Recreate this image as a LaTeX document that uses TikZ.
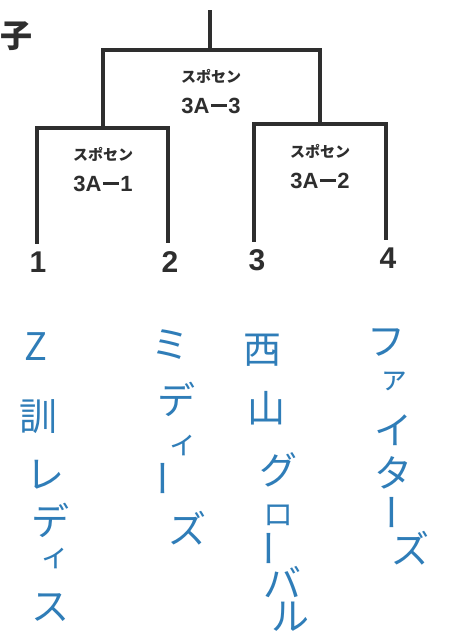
\documentclass[tikz,border=0pt]{standalone}
\usepackage{fontspec}
\setmainfont{Liberation Sans}
\newfontfamily\cjk{Noto Sans CJK JP}
\definecolor{ink}{HTML}{2E2E2E}
\definecolor{pen}{HTML}{2F7DB8}
\newcommand{\longdash}{\hspace{1.5pt}\rule[6.5pt]{16pt}{2.6pt}\hspace{1.5pt}}
\tikzset{
  bracket/.style={draw=ink, line width=3.6pt, line cap=rect, line join=miter},
  kana/.style={text=ink, font=\cjk\fontsize{15}{15}\selectfont\bfseries, inner sep=0pt},
  code/.style={text=ink, font=\fontsize{22}{22}\selectfont\bfseries, inner sep=0pt},
  num/.style={text=ink, font=\fontsize{30}{30}\selectfont\bfseries, inner sep=0pt},
  hand/.style={text=pen, font=\cjk\fontsize{38}{38}\selectfont, inner sep=0pt},
  handsm/.style={text=pen, font=\cjk\fontsize{30}{30}\selectfont, inner sep=0pt}
}
\begin{document}
\begin{tikzpicture}[x=1pt,y=-1pt]
\useasboundingbox[fill=white] (0,0) rectangle (455,636);
% bracket coordinates
\coordinate (root) at (210,12);
\coordinate (m) at (210,50);
\coordinate (mL) at (103,50);
\coordinate (mR) at (320,50);
\coordinate (L) at (103,128);
\coordinate (R) at (320,124);
\coordinate (L1) at (37,128);
\coordinate (L2) at (168,128);
\coordinate (R1) at (254,124);
\coordinate (R2) at (386,124);
\coordinate (e1) at (37,242);
\coordinate (e2) at (168,241);
\coordinate (e3) at (254,240);
\coordinate (e4) at (386,238);
\draw[bracket] (root) -- (m);
\draw[bracket] (L) -- (mL) -- (mR) -- (R);
\draw[bracket] (e1) -- (L1) -- (L2) -- (e2);
\draw[bracket] (e3) -- (R1) -- (R2) -- (e4);
% labels
\node[kana] (k3) at (211,76) {スポセン};
\node[code] (c3) at (211,106) {3A\longdash3};
\node[kana] (k1) at (103,154) {スポセン};
\node[code] (c1) at (103,184) {3A\longdash1};
\node[kana] (k2) at (320,151) {スポセン};
\node[code] (c2) at (320,181) {3A\longdash2};
\node[num] (n1) at (38,262) {1};
\node[num] (n2) at (170,262) {2};
\node[num] (n3) at (257,260) {3};
\node[num] (n4) at (388,258) {4};
\node[text=ink, font=\cjk\fontsize{32}{32}\selectfont\bfseries, inner sep=0pt] (ko) at (17,36) {子};
\node[hand] (cut) at (470,28) {ミ};
% handwritten column 1
\node[hand] (a1) at (36,347) {Z};
\node[hand] (a2) at (38,417) {訓};
\node[hand] (a3) at (45,475) {レ};
\node[hand] (a4) at (50,520) {デ};
\node[handsm] (a5) at (55,558) {ィ};
\node[hand] (a6) at (50,608) {ス};
% column 2
\node[hand] (b1) at (170,345) {ミ};
\node[hand] (b2) at (176,399) {デ};
\node[handsm] (b3) at (183,445) {ィ};
\node[hand, rotate=90] (b4) at (169,478) {ー};
\node[hand] (b5) at (187,528) {ズ};
% column 3
\node[hand] (d1) at (262,350) {西};
\node[hand] (d2) at (266,408) {山};
\node[hand] (d3) at (278,470) {グ};
\node[handsm] (d4) at (278,515) {ロ};
\node[hand, rotate=90] (d5) at (275,548) {ー};
\node[hand] (d6) at (282,582) {バ};
\node[hand] (d7) at (290,617) {ル};
% column 4
\node[hand] (f1) at (386,343) {フ};
\node[handsm] (f2) at (394,381) {ァ};
\node[hand] (f3) at (393,430) {イ};
\node[hand] (f4) at (393,473) {タ};
\node[hand, rotate=90] (f5) at (398,512) {ー};
\node[hand] (f6) at (410,548) {ズ};
\end{tikzpicture}
\end{document}
